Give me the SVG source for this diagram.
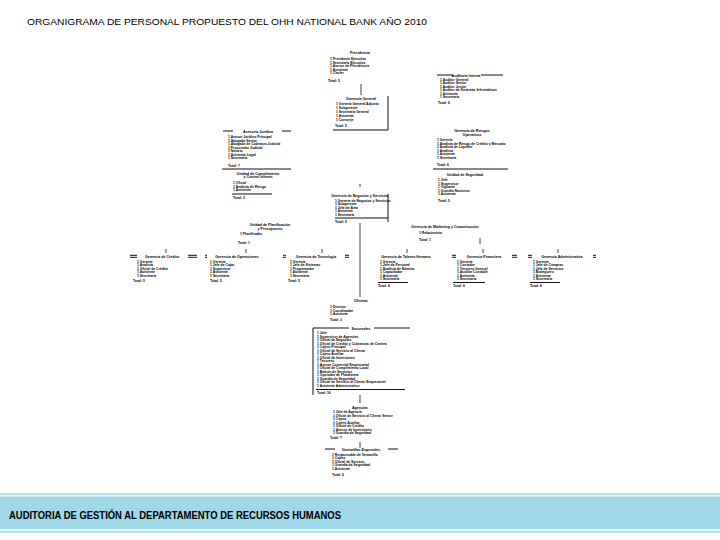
<svg xmlns="http://www.w3.org/2000/svg" width="720" height="540" viewBox="0 0 720 540">
<style>
text{font-family:"Liberation Sans",Arial,sans-serif;fill:#000}
.t{font-size:3.6px;font-weight:bold;text-anchor:middle}
.r{font-size:3.4px;font-weight:bold}
.tot{font-size:3.4px;font-weight:bold}
.ln{stroke:#111;stroke-width:1;fill:none}
.cn{stroke:#444;stroke-width:1;fill:none}
</style>
<rect width="720" height="540" fill="#fff"/>
<text x="27" y="24.5" font-size="9.6" textLength="400" lengthAdjust="spacingAndGlyphs" fill="#333">ORGANIGRAMA DE PERSONAL PROPUESTO DEL OHH NATIONAL BANK AÑO 2010</text>

<g id="connectors">
<line class="cn" x1="361" y1="84" x2="361" y2="95"/>
<line class="cn" x1="360" y1="184" x2="360" y2="187"/>
<line class="cn" x1="360" y1="223" x2="360" y2="297"/>
<line class="cn" x1="480" y1="238" x2="480" y2="244"/>
<line class="cn" x1="166" y1="249" x2="166" y2="253"/>
<line class="cn" x1="246" y1="249" x2="246" y2="253"/>
<line class="cn" x1="322" y1="249" x2="322" y2="253"/>
<line class="cn" x1="407" y1="249" x2="407" y2="253"/>
<line class="cn" x1="483" y1="249" x2="483" y2="253"/>
<line class="cn" x1="558" y1="249" x2="558" y2="253"/>
<line class="cn" x1="360" y1="395" x2="360" y2="403"/>
<line class="cn" x1="360" y1="442" x2="360" y2="448"/>
</g>

<g id="n-presidencia">
<text class="t" x="360" y="54">Presidencia</text>
<text class="r" x="330" y="60">1 Presidente Ejecutivo</text>
<text class="r" x="330" y="63.5">1 Secretaria Ejecutiva</text>
<text class="r" x="330" y="67">1 Asesor de Presidencia</text>
<text class="r" x="330" y="70.5">1 Asistente</text>
<text class="r" x="330" y="74">1 Chofer</text>
<text class="tot" x="328" y="82">Total: 5</text>
</g>

<g id="n-gerencia-general">
<path class="ln" d="M388 96V130H333"/>
<text class="t" x="361" y="99.5">Gerencia General</text>
<text class="r" x="336" y="105">1 Gerente General Adjunto</text>
<text class="r" x="336" y="109">1 Subgerente</text>
<text class="r" x="336" y="113">1 Secretaria General</text>
<text class="r" x="336" y="117">1 Asistente</text>
<text class="r" x="336" y="121">1 Conserje</text>
<text class="tot" x="335" y="127">Total: 5</text>
</g>

<g id="n-auditoria">
<path class="ln" d="M437 75H452M481 75H503"/>
<text class="t" x="466" y="76.5">Auditoría Interna</text>
<text class="r" x="440" y="80.5">1 Auditor General</text>
<text class="r" x="440" y="84">1 Auditor Senior</text>
<text class="r" x="440" y="87.5">1 Auditor Junior</text>
<text class="r" x="440" y="91">1 Auditor de Sistemas Informáticos</text>
<text class="r" x="440" y="94.5">1 Asistente</text>
<text class="r" x="440" y="98">1 Secretaria</text>
<text class="tot" x="438" y="104">Total: 6</text>
</g>

<g id="n-asesoria">
<path class="ln" d="M223 131H233M282 131H291"/>
<text class="t" x="258" y="132.5">Asesoría Jurídica</text>
<text class="r" x="228" y="138">1 Asesor Jurídico Principal</text>
<text class="r" x="228" y="141.5">1 Abogado Senior</text>
<text class="r" x="228" y="145">1 Abogado de Cobranza Judicial</text>
<text class="r" x="228" y="148.5">1 Procurador Judicial</text>
<text class="r" x="228" y="152">1 Notario</text>
<text class="r" x="228" y="155.5">1 Asistente Legal</text>
<text class="r" x="228" y="159">1 Secretaria</text>
<text class="tot" x="228" y="166.5">Total: 7</text>
<line class="ln" x1="222" y1="169" x2="291" y2="169"/>
<text class="t" x="258" y="174.5">Unidad de Cumplimiento</text>
<text class="t" x="258" y="178">y Control Interno</text>
<text class="r" x="233" y="184">1 Oficial</text>
<text class="r" x="233" y="187.5">1 Analista de Riesgo</text>
<text class="r" x="233" y="191">1 Asistente</text>
<line class="ln" x1="232" y1="194" x2="272" y2="194"/>
<text class="tot" x="233" y="198.5">Total: 3</text>
</g>

<g id="n-riesgos">
<text class="t" x="472" y="132">Gerencia de Riesgos</text>
<text class="t" x="472" y="135.5">Operativos</text>
<text class="r" x="437" y="141">1 Gerente</text>
<text class="r" x="437" y="144.5">1 Analista de Riesgo de Crédito y Mercado</text>
<text class="r" x="437" y="148">1 Analista de Liquidez</text>
<text class="r" x="437" y="151.5">1 Analista</text>
<text class="r" x="437" y="155">1 Asistente</text>
<text class="r" x="437" y="158.5">1 Secretaria</text>
<text class="tot" x="437" y="166">Total: 6</text>
<line class="ln" x1="433" y1="169" x2="508" y2="169"/>
<text class="t" x="465" y="175.5">Unidad de Seguridad</text>
<text class="r" x="438" y="181">1 Jefe</text>
<text class="r" x="438" y="184.5">1 Supervisor</text>
<text class="r" x="438" y="188">1 Vigilante</text>
<text class="r" x="438" y="191.5">1 Guardia Nocturno</text>
<text class="r" x="438" y="195">1 Asistente</text>
<text class="tot" x="438" y="202">Total: 5</text>
</g>

<g id="n-negocios">
<path class="ln" d="M388 194V222"/>
<text class="t" x="360" y="196.5">Gerencia de Negocios y Servicios</text>
<text class="r" x="335" y="201.5">1 Gerente de Negocios y Servicios</text>
<text class="r" x="335" y="205">1 Subgerente</text>
<text class="r" x="335" y="208.5">1 Jefe de Área</text>
<text class="r" x="335" y="212">1 Asistente</text>
<text class="r" x="335" y="215.5">1 Secretaria</text>
<line class="ln" x1="335" y1="218" x2="388" y2="218"/>
<text class="tot" x="335" y="222.5">Total: 5</text>
</g>

<g id="n-comunicaciones">
<text class="t" x="445" y="228">Gerencia de Marketing y Comunicación</text>
<text class="r" x="419" y="234">1 Relacionista</text>
<text class="tot" x="419" y="241">Total: 1</text>
</g>

<g id="n-planificacion">
<text class="t" x="270" y="226">Unidad de Planificación</text>
<text class="t" x="270" y="229.5">y Presupuesto</text>
<text class="r" x="240" y="235">1 Planificador</text>
<text class="tot" x="238" y="243.5">Total: 1</text>
</g>

<g id="n-credito">
<path class="ln" d="M130 255.3H137M130 257.3H137M188 255.3H197M188 257.3H197"/>
<text class="t" x="162" y="257.5">Gerencia de Crédito</text>
<text class="r" x="137" y="262.5">1 Gerente</text>
<text class="r" x="137" y="266">1 Analista</text>
<text class="r" x="137" y="269.5">1 Oficial de Crédito</text>
<text class="r" x="137" y="273">1 Asistente</text>
<text class="r" x="137" y="276.5">1 Secretaria</text>
<text class="tot" x="133" y="282">Total: 5</text>
</g>

<g id="n-operaciones">
<path class="ln" d="M205 255.3H207M205 257.3H207"/>
<text class="t" x="237" y="257.5">Gerencia de Operaciones</text>
<text class="r" x="210" y="262.5">1 Gerente</text>
<text class="r" x="210" y="266">1 Jefe de Cajas</text>
<text class="r" x="210" y="269.5">1 Supervisor</text>
<text class="r" x="210" y="273">1 Asistente</text>
<text class="r" x="210" y="276.5">1 Secretaria</text>
<text class="tot" x="210" y="282">Total: 5</text>
</g>

<g id="n-tecnologia">
<path class="ln" d="M283 255.3H286M283 257.3H286M345 255.3H349M345 257.3H349"/>
<text class="t" x="316" y="257.5">Gerencia de Tecnología</text>
<text class="r" x="290" y="262.5">1 Gerente</text>
<text class="r" x="290" y="266">1 Jefe de Sistemas</text>
<text class="r" x="290" y="269.5">1 Programador</text>
<text class="r" x="290" y="273">1 Asistente</text>
<text class="r" x="290" y="276.5">1 Secretaria</text>
<text class="tot" x="288" y="282">Total: 5</text>
</g>

<g id="n-rrhh">
<text class="t" x="406" y="257.5">Gerencia de Talento Humano</text>
<text class="r" x="380" y="262.5">1 Gerente</text>
<text class="r" x="380" y="266">1 Jefe de Personal</text>
<text class="r" x="380" y="269.5">1 Analista de Nómina</text>
<text class="r" x="380" y="273">1 Capacitador</text>
<text class="r" x="380" y="276.5">1 Asistente</text>
<text class="r" x="380" y="280">1 Secretaria</text>
<line class="ln" x1="378" y1="282.5" x2="408" y2="282.5"/>
<text class="tot" x="378" y="286.5">Total: 6</text>
</g>

<g id="n-financiera">
<path class="ln" d="M452 255.3H456M452 257.3H456M512 255.3H517M512 257.3H517"/>
<text class="t" x="484" y="257.5">Gerencia Financiera</text>
<text class="r" x="457" y="262.5">1 Gerente</text>
<text class="r" x="457" y="266">1 Contador</text>
<text class="r" x="457" y="269.5">1 Tesorero General</text>
<text class="r" x="457" y="273">1 Auxiliar Contable</text>
<text class="r" x="457" y="276.5">1 Asistente</text>
<text class="r" x="457" y="280">1 Secretaria</text>
<line class="ln" x1="453" y1="282.5" x2="485" y2="282.5"/>
<text class="tot" x="453" y="286.5">Total: 6</text>
</g>

<g id="n-administrativa">
<path class="ln" d="M528 255.3H532M528 257.3H532M593 255.3H596M593 257.3H596"/>
<text class="t" x="562" y="257.5">Gerencia Administrativa</text>
<text class="r" x="533" y="262.5">1 Gerente</text>
<text class="r" x="533" y="266">1 Jefe de Compras</text>
<text class="r" x="533" y="269.5">1 Jefe de Servicios</text>
<text class="r" x="533" y="273">1 Bodeguero</text>
<text class="r" x="533" y="276.5">1 Asistente</text>
<text class="r" x="533" y="280">1 Secretaria</text>
<line class="ln" x1="530" y1="282.5" x2="560" y2="282.5"/>
<text class="tot" x="530" y="286.5">Total: 6</text>
</g>

<g id="n-oficinas">
<text class="t" x="361" y="301.5">Oficinas</text>
<text class="r" x="330" y="308">1 Director</text>
<text class="r" x="330" y="311.5">1 Coordinador</text>
<text class="r" x="330" y="315">1 Asistente</text>
<text class="tot" x="330" y="321">Total: 3</text>
</g>

<g id="n-sucursales">
<path class="ln" d="M313 395V328H349M374 328H410"/>
<text class="t" x="361" y="329.5">Sucursales</text>
<text class="r" x="317" y="334">1 Jefe</text>
<text class="r" x="317" y="337.5">1 Supervisor de Agencias</text>
<text class="r" x="317" y="341">1 Oficial de Negocios</text>
<text class="r" x="317" y="344.5">1 Oficial de Crédito y Cobranzas de Cartera</text>
<text class="r" x="317" y="348">1 Cajero Principal</text>
<text class="r" x="317" y="351.5">1 Oficial de Servicio al Cliente</text>
<text class="r" x="317" y="355">1 Cajero Auxiliar</text>
<text class="r" x="317" y="358.5">1 Oficial de Inversiones</text>
<text class="r" x="317" y="362">1 Tesorero</text>
<text class="r" x="317" y="365.5">1 Asesor Comercial Empresarial</text>
<text class="r" x="317" y="369">1 Oficial de Cumplimiento Local</text>
<text class="r" x="317" y="372.5">1 Balcón de Servicios</text>
<text class="r" x="317" y="376">1 Operador de Plataforma</text>
<text class="r" x="317" y="379.5">1 Guardia de Seguridad</text>
<text class="r" x="317" y="383">1 Oficial de Servicio al Cliente Empresarial</text>
<text class="r" x="317" y="386.5">1 Asistente Administrativo</text>
<line class="ln" x1="316" y1="389.5" x2="405" y2="389.5"/>
<text class="tot" x="317" y="393.5">Total: 16</text>
</g>

<g id="n-agencias">
<text class="t" x="360" y="408.5">Agencias</text>
<text class="r" x="333" y="413">1 Jefe de Agencia</text>
<text class="r" x="333" y="416.5">1 Oficial de Servicio al Cliente Senior</text>
<text class="r" x="333" y="420">1 Cajero</text>
<text class="r" x="333" y="423.5">1 Cajero Auxiliar</text>
<text class="r" x="333" y="427">1 Oficial de Crédito</text>
<text class="r" x="333" y="430.5">1 Asesor de Inversiones</text>
<text class="r" x="333" y="434">1 Guardia de Seguridad</text>
<text class="tot" x="330" y="439">Total: 7</text>
</g>

<g id="n-ventanillas">
<path class="ln" d="M325 449H335M388 449H398"/>
<text class="t" x="361" y="450.5">Ventanillas Especiales</text>
<text class="r" x="332" y="455.5">1 Responsable de Ventanilla</text>
<text class="r" x="332" y="459">1 Cajero</text>
<text class="r" x="332" y="462.5">1 Oficial de Servicio</text>
<text class="r" x="332" y="466">1 Guardia de Seguridad</text>
<text class="r" x="332" y="469.5">1 Asistente</text>
<text class="tot" x="332" y="476">Total: 5</text>
</g>

<g id="footer">
<rect x="0" y="493" width="720" height="2.5" fill="#b5e1ee"/>
<rect x="0" y="496.5" width="720" height="32.5" fill="#9ed8e9"/>
<rect x="0" y="530.5" width="720" height="2.5" fill="#b5e1ee"/>
<text x="9" y="519" font-size="10.5" font-weight="bold" textLength="332" lengthAdjust="spacingAndGlyphs" fill="#1a1a1a">AUDITORIA DE GESTIÓN AL DEPARTAMENTO DE RECURSOS HUMANOS</text>
</g>
</svg>
